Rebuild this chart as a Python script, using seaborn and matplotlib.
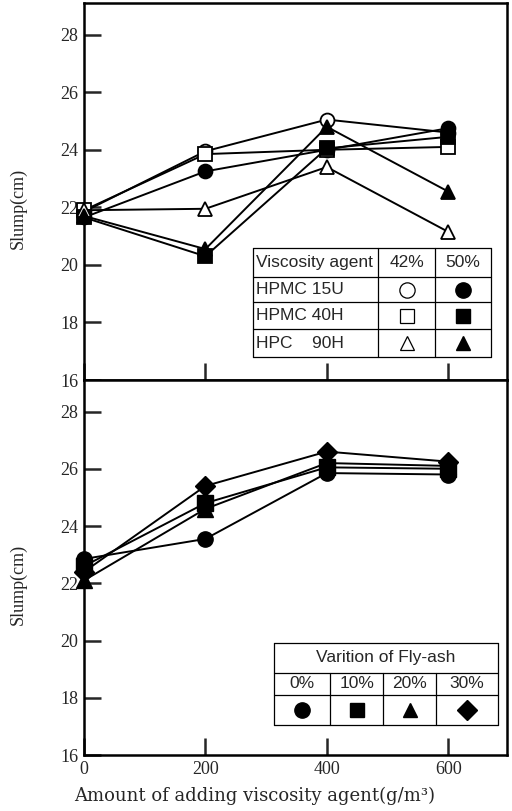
import matplotlib
matplotlib.use("Agg")
import matplotlib.pyplot as plt
import matplotlib.font_manager as fm
from matplotlib.patches import Rectangle
import seaborn as sns

amount = [0, 200, 400, 600]

# upper panel - viscosity agent type / dosage
hpmc15u_42 = [21.85, 23.95, 25.05, 24.6]
hpmc15u_50 = [21.65, 23.25, 24.0, 24.75]
hpmc40h_42 = [21.9, 23.85, 24.0, 24.1]
hpmc40h_50 = [21.65, 20.3, 24.05, 24.45]
hpc90h_42 = [21.9, 21.95, 23.4, 21.15]
hpc90h_50 = [21.7, 20.55, 24.8, 22.55]

# lower panel - fly-ash variation
flyash_0 = [22.85, 23.55, 25.85, 25.8]
flyash_10 = [22.6, 24.8, 26.05, 26.0]
flyash_20 = [22.1, 24.6, 26.2, 26.1]
flyash_30 = [22.4, 25.4, 26.6, 26.25]

agent_names = ["HPMC 15U", "HPMC 40H", "HPC    90H"]
agent_markers = ["o", "s", "^"]
flyash_labels = ["0%", "10%", "20%", "30%"]
flyash_markers = ["o", "s", "^", "D"]
yticks = [16, 18, 20, 22, 24, 26, 28]
xticks = [0, 200, 400, 600]

sns.set_style("white")
plt.rcParams["font.family"] = ["Liberation Serif", "DejaVu Serif"]
names = {f.name for f in fm.fontManager.ttflist}
legend_font = "Liberation Sans Narrow" if "Liberation Sans Narrow" in names else "Liberation Sans"

fig = plt.figure(figsize=(5.12, 8.11), dpi=100)
ax1 = fig.add_axes([0.1641, 0.5314, 0.8262, 0.4649])
ax2 = fig.add_axes([0.1641, 0.0690, 0.8262, 0.4624])

top_series = [
    (hpmc15u_42, "o", "white"), (hpmc15u_50, "o", "black"),
    (hpmc40h_42, "s", "white"), (hpmc40h_50, "s", "black"),
    (hpc90h_42, "^", "white"), (hpc90h_50, "^", "black"),
]
for vals, m, fc in top_series:
    sns.lineplot(x=amount, y=vals, ax=ax1, color="black", lw=1.4, marker=m,
                 mfc=fc, mec="black", mew=1.3, ms=10, clip_on=False, zorder=3)

bottom_series = [flyash_0, flyash_10, flyash_20, flyash_30]
for vals, m in zip(bottom_series, flyash_markers):
    sns.lineplot(x=amount, y=vals, ax=ax2, color="black", lw=1.4, marker=m,
                 mfc="black", mec="black", mew=1.0, ms=11 if m != "D" else 10,
                 clip_on=False, zorder=3)

for ax in (ax1, ax2):
    ax.set_xlim(0, 697)
    ax.set_ylim(16, 29.1)
    ax.set_yticks(yticks)
    ax.set_xticks(xticks)
    for s in ax.spines.values():
        s.set_linewidth(1.8)
        s.set_color("black")
    ax.tick_params(direction="in", length=12, width=1.8, labelsize=13,
                   left=True, bottom=True, pad=4)
    ax.set_ylabel("Slump(cm)", fontsize=13)
    ax.yaxis.set_label_coords(-0.135, 0.455)

ax1.tick_params(labelbottom=False)
ax1.set_xlabel("")
ax2.set_xlabel("Amount of adding viscosity agent(g/m³)", fontsize=13,
               family=["DejaVu Serif"])
ax2.xaxis.set_label_coords(0.404, -0.085)


def hline(ax, x0, x1, y):
    ax.plot([x0, x1], [y, y], color="black", lw=0.9, transform=ax.transAxes,
            clip_on=False, zorder=6)


def vline(ax, x, y0, y1):
    ax.plot([x, x], [y0, y1], color="black", lw=0.9, transform=ax.transAxes,
            clip_on=False, zorder=6)


# upper legend table
x0, c1, c2, x1 = 0.3995, 0.695, 0.830, 0.962
rows = [0.350, 0.273, 0.207, 0.135, 0.061]
ax1.add_patch(Rectangle((x0, rows[-1]), x1 - x0, rows[0] - rows[-1],
                        transform=ax1.transAxes, facecolor="white",
                        edgecolor="none", zorder=5))
for y in rows:
    hline(ax1, x0, x1, y)
for x in (x0, c1, c2, x1):
    vline(ax1, x, rows[-1], rows[0])
tkw = dict(transform=ax1.transAxes, va="center", fontsize=12.5,
           family=[legend_font, "DejaVu Sans"], zorder=7)
ax1.text(x0 + 0.008, (rows[0] + rows[1]) / 2, "Viscosity agent", ha="left", **tkw)
ax1.text((c1 + c2) / 2, (rows[0] + rows[1]) / 2, "42%", ha="center", **tkw)
ax1.text((c2 + x1) / 2, (rows[0] + rows[1]) / 2, "50%", ha="center", **tkw)
for i, (name, m) in enumerate(zip(agent_names, agent_markers)):
    yc = (rows[i + 1] + rows[i + 2]) / 2
    ax1.text(x0 + 0.008, yc, name, ha="left", **tkw)
    ax1.plot((c1 + c2) / 2, yc, marker=m, ms=11 if m == "o" else 10, mfc="white",
             mec="black", mew=0.9, transform=ax1.transAxes, zorder=7)
    ax1.plot((c2 + x1) / 2, yc, marker=m, ms=11 if m == "o" else 10, mfc="black",
             mec="black", transform=ax1.transAxes, zorder=7)

# lower legend table
bx0, bx1 = 0.449, 0.979
bcols = [0.449, 0.582, 0.707, 0.832, 0.979]
brows = [0.299, 0.219, 0.160, 0.080]
ax2.add_patch(Rectangle((bx0, brows[-1]), bx1 - bx0, brows[0] - brows[-1],
                        transform=ax2.transAxes, facecolor="white",
                        edgecolor="none", zorder=5))
for y in brows:
    hline(ax2, bx0, bx1, y)
vline(ax2, bx0, brows[-1], brows[0])
vline(ax2, bx1, brows[-1], brows[0])
for x in bcols[1:-1]:
    vline(ax2, x, brows[-1], brows[1])
bkw = dict(transform=ax2.transAxes, va="center", ha="center", fontsize=12.5,
           family=[legend_font, "DejaVu Sans"], zorder=7)
ax2.text((bx0 + bx1) / 2, (brows[0] + brows[1]) / 2, "Varition of Fly-ash", **bkw)
for i, (lab, m) in enumerate(zip(flyash_labels, flyash_markers)):
    xc = (bcols[i] + bcols[i + 1]) / 2
    ax2.text(xc, (brows[1] + brows[2]) / 2, lab, **bkw)
    ax2.plot(xc, (brows[2] + brows[3]) / 2, marker=m, ms=11 if m == "o" else 10,
             mfc="black", mec="black", transform=ax2.transAxes, zorder=7)

fig.savefig("out.png", dpi=100)
